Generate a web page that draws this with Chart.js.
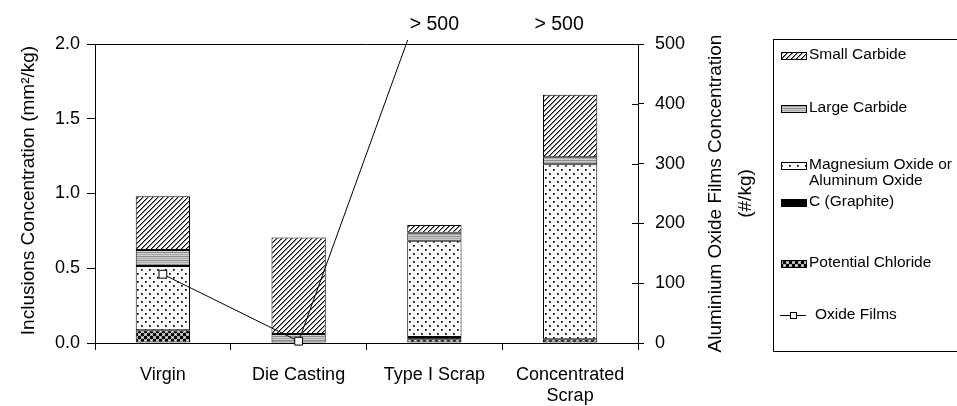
<!DOCTYPE html>
<html>
<head>
<meta charset="utf-8">
<script src="https://cdn.jsdelivr.net/npm/chart.js@4.4.1/dist/chart.umd.min.js"></script>
<style>
html,body{margin:0;padding:0;background:#fff;overflow:hidden;}
#wrap{width:957px;height:406px;position:relative;}
canvas{display:block;}
</style>
</head>
<body>
<div id="wrap"><canvas id="c" width="957" height="406"></canvas></div>
<script>
// ---- data ----
const categories = ['Virgin', 'Die Casting', 'Type I Scrap', ['Concentrated', 'Scrap']];
const smallCarbide = [0.36, 0.646, 0.052, 0.418];
const largeCarbide = [0.107, 0.06, 0.054, 0.047];
const mgAlOxide = [0.43, null, 0.644, 1.17];
const graphite = [null, null, 0.015, null];
const potentialChloride = [0.085, null, 0.025, 0.025];
const oxideFilms = [115, 3, 630, 650];
const leftTicks = [0, 0.5, 1.0, 1.5, 2.0];
const rightTicks = [0, 100, 200, 300, 400, 500];
const overLabels = ['', '', '> 500', '> 500'];
const legendNames = ['Small Carbide', 'Large Carbide', ['Magnesium Oxide or', 'Aluminum Oxide'], 'C (Graphite)', 'Potential Chloride', 'Oxide Films'];

const FONT = '"Liberation Sans", Arial, sans-serif';

// ---- patterns ----
function mkPattern(w, h, draw) {
  const c = document.createElement('canvas');
  c.width = w; c.height = h;
  const g = c.getContext('2d');
  g.fillStyle = '#fff'; g.fillRect(0, 0, w, h);
  draw(g);
  return document.getElementById('c').getContext('2d').createPattern(c, 'repeat');
}
const patSmall = mkPattern(5, 5, g => {
  g.fillStyle = '#000'; for (let i = 0; i < 5; i++) g.fillRect(i, 4 - i, 1, 1);
  g.fillStyle = '#888'; for (let i = 0; i < 5; i++) g.fillRect(i, (5 - i) % 5, 1, 1);
});
const patLarge = mkPattern(4, 4, g => { g.fillStyle = '#cfcfcf'; g.fillRect(0, 0, 4, 4); g.fillStyle = '#8c8c8c'; g.fillRect(0, 0, 4, 1); g.fillStyle = '#a8a8a8'; g.fillRect(0, 2, 4, 1); });
const patDots = mkPattern(8, 8, g => { g.fillStyle = '#000'; g.fillRect(1, 1, 1.7, 1.7); g.fillRect(5, 5, 1.7, 1.7); });
const patChloride = mkPattern(6, 6, g => {
  g.fillStyle = '#000';
  [[1.5, 1.5], [4.5, 4.5], [-1.5, 4.5], [4.5, -1.5], [7.5, 1.5], [1.5, 7.5], [7.5, 7.5], [-1.5, -1.5]].forEach(p => { g.beginPath(); g.arc(p[0], p[1], 1.9, 0, Math.PI * 2); g.fill(); });
});
const fills = [patSmall, patLarge, patDots, '#000', patChloride];

function barDs(label, data, fill) {
  return { type: 'bar', label, data, backgroundColor: fill, borderColor: '#000', borderWidth: 1, borderSkipped: false, yAxisID: 'y', stack: 's', order: 1, barPercentage: 0.4, categoryPercentage: 1.0 };
}

const decor = {
  id: 'decor',
  afterDraw(chart) {
    const { ctx, chartArea: a, scales } = chart;
    const x = scales.x, y1 = scales.y1;
    ctx.save();
    ctx.strokeStyle = '#000'; ctx.lineWidth = 1;
    // top frame
    ctx.beginPath(); ctx.moveTo(a.left, a.top + 0.5); ctx.lineTo(a.right, a.top + 0.5); ctx.stroke();
    // inner half of right axis ticks
    rightTicks.forEach(v => {
      const py = Math.round(y1.getPixelForValue(v)) + 0.5;
      ctx.beginPath(); ctx.moveTo(a.right - 6, py); ctx.lineTo(a.right, py); ctx.stroke();
    });
    ctx.fillStyle = '#000';
    // over-range labels
    ctx.font = '19.5px ' + FONT; ctx.textAlign = 'center'; ctx.textBaseline = 'alphabetic';
    overLabels.forEach((t, i) => {
      if (!t) return;
      const px = x.getPixelForValue(i) - (i === 3 ? 11 : 0);
      ctx.fillText(t, px, 30);
    });
    // axis titles
    const cy = (a.top + a.bottom) / 2;
    ctx.font = '19px ' + FONT;
    ctx.save(); ctx.translate(34, cy - 3); ctx.rotate(-Math.PI / 2);
    ctx.fillText('Inclusions Concentration (mm\u00B2/kg)', 0, 0); ctx.restore();
    ctx.save(); ctx.translate(721, cy); ctx.rotate(-Math.PI / 2);
    ctx.fillText('Aluminium Oxide Films Concentration', 0, 0);
    ctx.fillText('(#/kg)', 0, 30); ctx.restore();
    // legend box
    ctx.strokeRect(773.5, 39.5, 260, 312);
    ctx.font = '15.5px ' + FONT; ctx.textAlign = 'left'; ctx.textBaseline = 'middle';
    const rows = [55, 108, 165, 202, 263, 315];
    for (let i = 0; i < 5; i++) {
      const cyR = rows[i];
      ctx.fillStyle = fills[i];
      ctx.fillRect(781, cyR - 3, 26, 8);
      ctx.strokeRect(781.5, cyR - 3 + 0.5, 25, 7);
      ctx.fillStyle = '#000';
      const nm = legendNames[i];
      if (Array.isArray(nm)) { nm.forEach((s, k) => ctx.fillText(s, 809, cyR + k * 15.5)); }
      else ctx.fillText(nm, 809, cyR);
    }
    const oy = rows[5] + 0.5;
    ctx.beginPath(); ctx.moveTo(780, oy); ctx.lineTo(806, oy); ctx.stroke();
    ctx.fillStyle = '#fff'; ctx.fillRect(790, oy - 3.5, 7, 7);
    ctx.strokeRect(790.5, oy - 3, 6, 6);
    ctx.fillStyle = '#000';
    ctx.fillText(legendNames[5], 815, rows[5]);
    ctx.restore();
  }
};

new Chart(document.getElementById('c'), {
  data: {
    labels: categories,
    datasets: [
      { type: 'line', label: 'Oxide Films', data: oxideFilms, yAxisID: 'y1', order: 0, borderColor: '#000', borderWidth: 1, tension: 0,
        pointStyle: 'rect', pointRadius: 5.5, pointBackgroundColor: '#fff', pointBorderColor: '#000', pointBorderWidth: 1,
        clip: { left: 0, top: 4, right: 0, bottom: 6 } },
      barDs('Potential Chloride', potentialChloride, patChloride),
      barDs('C (Graphite)', graphite, '#000'),
      barDs('Magnesium Oxide or Aluminum Oxide', mgAlOxide, patDots),
      barDs('Large Carbide', largeCarbide, patLarge),
      barDs('Small Carbide', smallCarbide, patSmall)
    ]
  },
  options: {
    responsive: false, animation: false, devicePixelRatio: 1,
    layout: { padding: { top: 44, left: 0, right: 0, bottom: 0 } },
    plugins: { legend: { display: false }, tooltip: { enabled: false } },
    scales: {
      x: {
        offset: true,
        grid: { display: true, drawOnChartArea: false, offset: true, tickLength: 7, color: '#000', lineWidth: 1 },
        border: { display: true, color: '#000', width: 1 },
        ticks: { color: '#000', font: { family: FONT, size: 18 }, padding: 14, maxRotation: 0, autoSkip: false },
        afterFit(s) { s.height = 63; }
      },
      y: {
        position: 'left', stacked: true, min: 0, max: 2,
        afterBuildTicks(s) { s.ticks = leftTicks.map(v => ({ value: v })); },
        grid: { display: true, drawOnChartArea: false, tickLength: 8, color: '#000' },
        border: { display: true, color: '#000', width: 1 },
        ticks: { color: '#000', font: { family: FONT, size: 18 }, padding: 7, callback: v => Number(v).toFixed(1) },
        afterFit(s) { s.width = 95; }
      },
      y1: {
        position: 'right', min: 0, max: 500,
        afterBuildTicks(s) { s.ticks = rightTicks.map(v => ({ value: v })); },
        grid: { display: true, drawOnChartArea: false, tickLength: 6, color: '#000' },
        border: { display: true, color: '#000', width: 1 },
        ticks: { color: '#000', font: { family: FONT, size: 18 }, padding: 11, callback: v => String(v) },
        afterFit(s) { s.width = 319; }
      }
    }
  },
  plugins: [decor]
});
</script>
</body>
</html>
